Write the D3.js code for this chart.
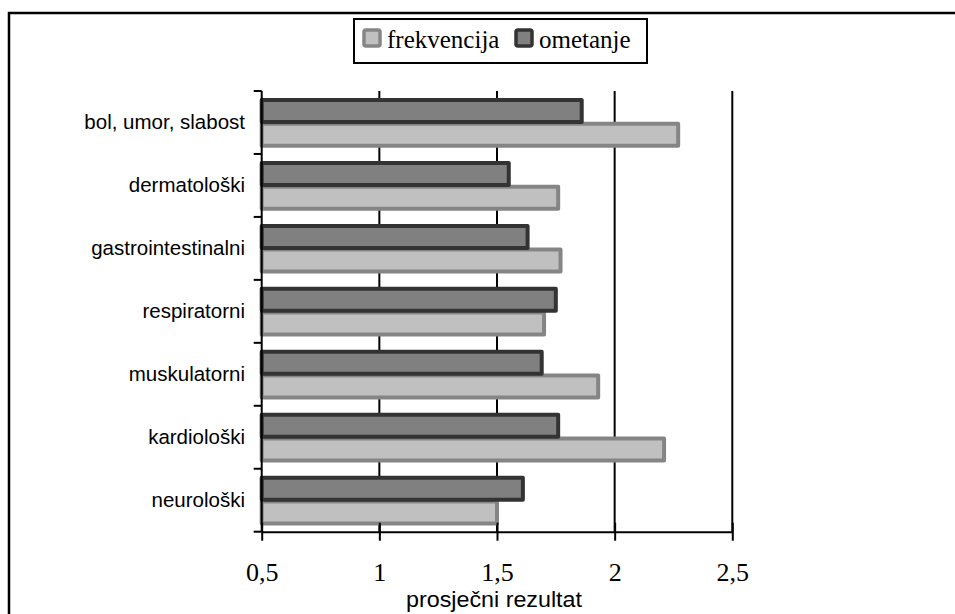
<!DOCTYPE html>
<html>
<head>
<meta charset="utf-8">
<script src="https://d3js.org/d3.v7.min.js"></script>
<style>
  html, body { margin: 0; padding: 0; background: #fff; }
  svg { display: block; }
</style>
</head>
<body>
<div id="chart"></div>
<script>
// chart data
const categories = ["bol, umor, slabost", "dermatološki", "gastrointestinalni", "respiratorni", "muskulatorni", "kardiološki", "neurološki"];
const frekvencija = [2.27, 1.76, 1.77, 1.70, 1.93, 2.21, 1.50];
const ometanje = [1.86, 1.55, 1.63, 1.75, 1.69, 1.76, 1.61];
const xTicks = [0.5, 1, 1.5, 2, 2.5];
const seriesNames = ["frekvencija", "ometanje"];

const width = 955, height = 614;

const svg = d3.select("#chart").append("svg")
    .attr("width", width)
    .attr("height", height);

// outer frame (runs off the right and bottom edges)
svg.append("rect")
    .attr("x", 9).attr("y", 13)
    .attr("width", 1000).attr("height", 700)
    .attr("fill", "#fff")
    .attr("stroke", "#000")
    .attr("stroke-width", 2.5);

const x = d3.scaleLinear().domain([0.5, 2.5]).range([261.7, 732.3]);
const y = d3.scaleBand().domain(categories).range([91, 531.7]);
const plotTop = y.range()[0], plotBottom = y.range()[1];

// vertical gridlines
svg.append("g").selectAll("line")
    .data(xTicks.slice(1))
    .join("line")
    .attr("x1", d => x(d)).attr("x2", d => x(d))
    .attr("y1", plotTop).attr("y2", plotBottom)
    .attr("stroke", "#000")
    .attr("stroke-width", 2);

const barH = 22;

// frekvencija bars (light, lower)
svg.append("g").selectAll("rect")
    .data(categories)
    .join("rect")
    .attr("x", x(0.5))
    .attr("y", d => y(d) + y.bandwidth() / 2 + 1.2)
    .attr("width", (d, i) => x(frekvencija[i]) - x(0.5))
    .attr("height", barH)
    .attr("fill", "#c0c0c0")
    .attr("stroke", "#858585")
    .attr("stroke-width", 4)
    .attr("stroke-linejoin", "round");

// ometanje bars (dark, upper)
svg.append("g").selectAll("rect")
    .data(categories)
    .join("rect")
    .attr("x", x(0.5))
    .attr("y", d => y(d) + y.bandwidth() / 2 - 22.5)
    .attr("width", (d, i) => x(ometanje[i]) - x(0.5))
    .attr("height", barH)
    .attr("fill", "#808080")
    .attr("stroke", "#333")
    .attr("stroke-width", 4)
    .attr("stroke-linejoin", "round");

// bottom axis
const xAxis = svg.append("g")
    .attr("transform", "translate(0," + plotBottom + ")")
    .call(d3.axisBottom(x).tickValues(xTicks).tickSize(9).tickSizeOuter(0)
        .tickFormat(d => String(d).replace(".", ",")));
xAxis.select(".domain").attr("stroke-width", 2);
xAxis.selectAll(".tick line").attr("y1", -9).attr("y2", 9).attr("stroke-width", 2);
xAxis.selectAll(".tick text")
    .attr("y", 49).attr("dy", 0)
    .attr("font-family", "'Liberation Serif', 'Times New Roman', serif")
    .attr("font-size", 26)
    .attr("fill", "#000");

// left axis: line + ticks at band edges
const yAxis = svg.append("g");
yAxis.append("line")
    .attr("x1", x(0.5)).attr("x2", x(0.5))
    .attr("y1", plotTop).attr("y2", plotBottom)
    .attr("stroke", "#000").attr("stroke-width", 2);
yAxis.selectAll("line.tk")
    .data(categories.map(c => y(c)).concat([plotBottom]))
    .join("line")
    .attr("class", "tk")
    .attr("x1", x(0.5) - 8).attr("x2", x(0.5))
    .attr("y1", d => d).attr("y2", d => d)
    .attr("stroke", "#000").attr("stroke-width", 2);
yAxis.selectAll("text")
    .data(categories)
    .join("text")
    .attr("x", 245)
    .attr("y", d => y(d) + y.bandwidth() / 2 + 7)
    .attr("text-anchor", "end")
    .attr("font-family", "'Liberation Sans', Arial, sans-serif")
    .attr("font-size", 20.5)
    .attr("fill", "#000")
    .text(d => d);

// axis title
svg.append("text")
    .attr("x", 494).attr("y", 607)
    .attr("text-anchor", "middle")
    .attr("font-family", "'Liberation Sans', Arial, sans-serif")
    .attr("font-size", 22)
    .attr("textLength", 176)
    .attr("lengthAdjust", "spacingAndGlyphs")
    .text("prosječni rezultat");

// legend
const legend = svg.append("g");
legend.append("rect")
    .attr("x", 354).attr("y", 19)
    .attr("width", 293).attr("height", 44)
    .attr("fill", "#fff")
    .attr("stroke", "#000")
    .attr("stroke-width", 2);
const legendColors = [["#c0c0c0", "#858585"], ["#808080", "#333"]];
const legendX = [364, 516];
seriesNames.forEach((name, i) => {
  legend.append("rect")
      .attr("x", legendX[i]).attr("y", 30)
      .attr("width", 16).attr("height", 16)
      .attr("rx", 2)
      .attr("fill", legendColors[i][0])
      .attr("stroke", legendColors[i][1])
      .attr("stroke-width", 3.5);
  legend.append("text")
      .attr("x", legendX[i] + 23).attr("y", 48)
      .attr("font-family", "'Liberation Serif', 'Times New Roman', serif")
      .attr("font-size", 25)
      .attr("fill", "#000")
      .text(name);
});
</script>
</body>
</html>
